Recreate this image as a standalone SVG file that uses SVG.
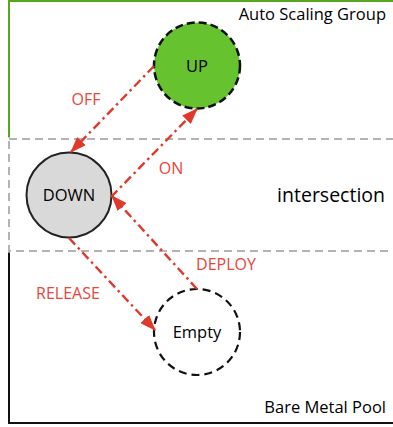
<svg xmlns="http://www.w3.org/2000/svg" width="393" height="427" viewBox="0 0 393 427">
<style>
.lbl{font-family:"Open Sans","Noto Sans","Liberation Sans",sans-serif;font-size:16.5px;fill:#000}
.red{font-family:"Open Sans","Noto Sans","Liberation Sans",sans-serif;font-size:16px;fill:#e8453c}
.conn{stroke:#e0392b;stroke-width:2.4;fill:none;stroke-dasharray:9,4,2.5,4;marker-end:url(#ah)}
</style>
<defs>
<marker id="ah" markerWidth="16" markerHeight="12" refX="15" refY="6" orient="auto" markerUnits="userSpaceOnUse" viewBox="0 0 16 12">
<path d="M0,0 L16,6 L0,12 z" fill="#e0392b"/>
</marker>
</defs>
<rect width="393" height="427" fill="#fff"/>
<g id="bare-metal-pool">
<rect x="9" y="139" width="400" height="284" fill="none" stroke="#111" stroke-width="2"/>
<text class="lbl" x="386" y="413" text-anchor="end">Bare Metal Pool</text>
</g>
<g id="auto-scaling-group">
<rect x="9" y="1" width="400" height="250" fill="none" stroke="#5aa51e" stroke-width="2"/>
<text class="lbl" x="386" y="20" text-anchor="end">Auto Scaling Group</text>
</g>
<g id="intersection">
<rect x="9" y="139" width="400" height="112" fill="#fff" stroke="#fff" stroke-width="3"/>
<rect x="9" y="139" width="400" height="112" fill="none" stroke="#b3b3b3" stroke-width="2" stroke-dasharray="8,5"/>
<text class="lbl" x="385" y="202" text-anchor="end" style="font-size:19.5px">intersection</text>
</g>
<g id="up">
<circle cx="197" cy="65.5" r="43" fill="#67c230" stroke="#111" stroke-width="2.5" stroke-dasharray="8,4"/>
<text class="lbl" x="197" y="72" text-anchor="middle">UP</text>
</g>
<g id="down">
<circle cx="69" cy="195" r="42.5" fill="#d9d9d9" stroke="#222" stroke-width="2"/>
<text class="lbl" x="69" y="201" text-anchor="middle">DOWN</text>
</g>
<g id="empty">
<circle cx="197" cy="332" r="43" fill="#fff" stroke="#111" stroke-width="2.2" stroke-dasharray="8,5"/>
<text class="lbl" x="197" y="338" text-anchor="middle">Empty</text>
</g>
<g id="connectors">
<path class="conn" d="M154,66 L71,152"/>
<path class="conn" d="M111,197 L197,109"/>
<path class="conn" d="M197,289 L112,196"/>
<path class="conn" d="M69,238 L155,330"/>
<text class="red" x="86" y="105" text-anchor="middle">OFF</text>
<text class="red" x="171" y="174" text-anchor="middle">ON</text>
<text class="red" x="226" y="270" text-anchor="middle">DEPLOY</text>
<text class="red" x="68" y="299" text-anchor="middle">RELEASE</text>
</g>
</svg>
